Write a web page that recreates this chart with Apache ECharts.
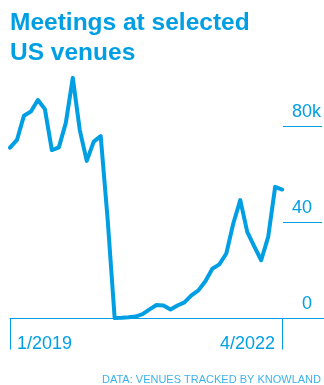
<!DOCTYPE html>
<html>
<head>
<meta charset="utf-8">
<script src="https://cdn.jsdelivr.net/npm/echarts@6/dist/echarts.min.js"></script>
<style>
  html, body { margin: 0; padding: 0; background: #ffffff; }
  #chart { width: 324px; height: 385px; }
</style>
</head>
<body>
<div id="chart"></div>
<script>
// Monthly meetings (thousands), Jan 2019 .. Apr 2022
const months = [
  '2019-01','2019-02','2019-03','2019-04','2019-05','2019-06','2019-07','2019-08','2019-09','2019-10','2019-11','2019-12',
  '2020-01','2020-02','2020-03','2020-04','2020-05','2020-06','2020-07','2020-08','2020-09','2020-10','2020-11','2020-12',
  '2021-01','2021-02','2021-03','2021-04','2021-05','2021-06','2021-07','2021-08','2021-09','2021-10','2021-11','2021-12',
  '2022-01','2022-02','2022-03','2022-04'
];
const meetings = [
  71, 74.2, 84.3, 86, 90.8, 87, 70, 71.1, 81.3, 100, 78.3, 65.5,
  73.5, 75.8, 41, 0.2, 0.3, 0.5, 0.8, 1.8, 3.8, 5.6, 5.4, 3.7,
  5.4, 6.7, 9.6, 11.7, 15.5, 20.7, 22.5, 27, 39.5, 49.2, 36, 30,
  24.2, 33.9, 54.7, 53.6
];
const yTicks = [0, 40, 80];
const xTickIndex = [0, 39];
const xTickLabels = ['1/2019', '4/2022'];
const titleText = 'Meetings at selected\nUS venues';
const sourceText = 'DATA: VENUES TRACKED BY KNOWLAND';

const BLUE = '#009fe3';
const LIGHT = '#3db2ea';
const FONT = 'Liberation Sans';

const seriesData = meetings.map((v, i) => [i, v]);

const chart = echarts.init(document.getElementById('chart'), null, { renderer: 'canvas' });
const xBase = {
  type: 'value', min: 0, max: 45, position: 'bottom', gridIndex: 0,
  splitLine: { show: false }
};
const yMin = yTicks[0], yMax = yTicks[yTicks.length - 1], yStep = yTicks[1] - yTicks[0];
chart.setOption({
  animation: false,
  backgroundColor: '#ffffff',
  title: [{
    text: titleText,
    left: 10, top: 8, padding: 0,
    textStyle: { fontFamily: FONT, fontWeight: 'bold', fontSize: 24.5, lineHeight: 30, color: BLUE }
  }, {
    text: sourceText,
    right: 3, top: 374, padding: 0,
    textStyle: { fontFamily: FONT, fontWeight: 'normal', fontSize: 11, color: LIGHT }
  }],
  grid: [
    { left: 10, right: 0, top: 126, bottom: 66.5, containLabel: false },
    { left: 283, right: 0, top: 126, bottom: 66.5, containLabel: false }
  ],
  xAxis: [
    Object.assign({}, xBase, {
      axisLine: { show: true, lineStyle: { color: BLUE, width: 1 } },
      axisTick: { show: true, customValues: xTickIndex, length: 31, lineStyle: { color: BLUE, width: 1 } },
      axisLabel: {
        show: true, customValues: [xTickIndex[0]], formatter: () => xTickLabels[0],
        align: 'left', padding: [0, 0, 0, 7], margin: 17,
        fontFamily: FONT, fontSize: 18, color: BLUE
      }
    }),
    Object.assign({}, xBase, {
      axisLine: { show: false },
      axisTick: { show: false },
      axisLabel: {
        show: true, customValues: [xTickIndex[1]], formatter: () => xTickLabels[1],
        align: 'right', padding: [0, 7, 0, 0], margin: 17,
        fontFamily: FONT, fontSize: 18, color: BLUE
      }
    }),
    { type: 'value', gridIndex: 1, min: 0, max: 1, show: false }
  ],
  yAxis: [
    {
      type: 'value', gridIndex: 0, min: yMin, max: yMax, interval: yStep, show: false
    },
    {
      type: 'value', gridIndex: 1, min: yMin, max: yMax, interval: yStep, position: 'right',
      splitLine: { show: true, lineStyle: { color: BLUE, width: 1 } },
      axisLine: { show: false },
      axisTick: { show: false },
      axisLabel: {
        show: true, inside: true, margin: 1,
        align: 'right', verticalAlign: 'bottom', padding: [0, 0, 5, 0],
        fontFamily: FONT, fontSize: 18, color: BLUE,
        formatter: v => v === 80 ? '80{k|k}' : v + '{h|k}',
        rich: {
          k: { fontFamily: FONT, fontSize: 18, color: BLUE },
          h: { fontFamily: FONT, fontSize: 18, color: 'rgba(0,0,0,0)' }
        }
      }
    }
  ],
  series: [{
    type: 'line',
    xAxisIndex: 0, yAxisIndex: 0,
    data: seriesData,
    showSymbol: false,
    symbol: 'none',
    clip: false,
    lineStyle: { color: BLUE, width: 4, join: 'round', cap: 'round' }
  }]
});
</script>
</body>
</html>
